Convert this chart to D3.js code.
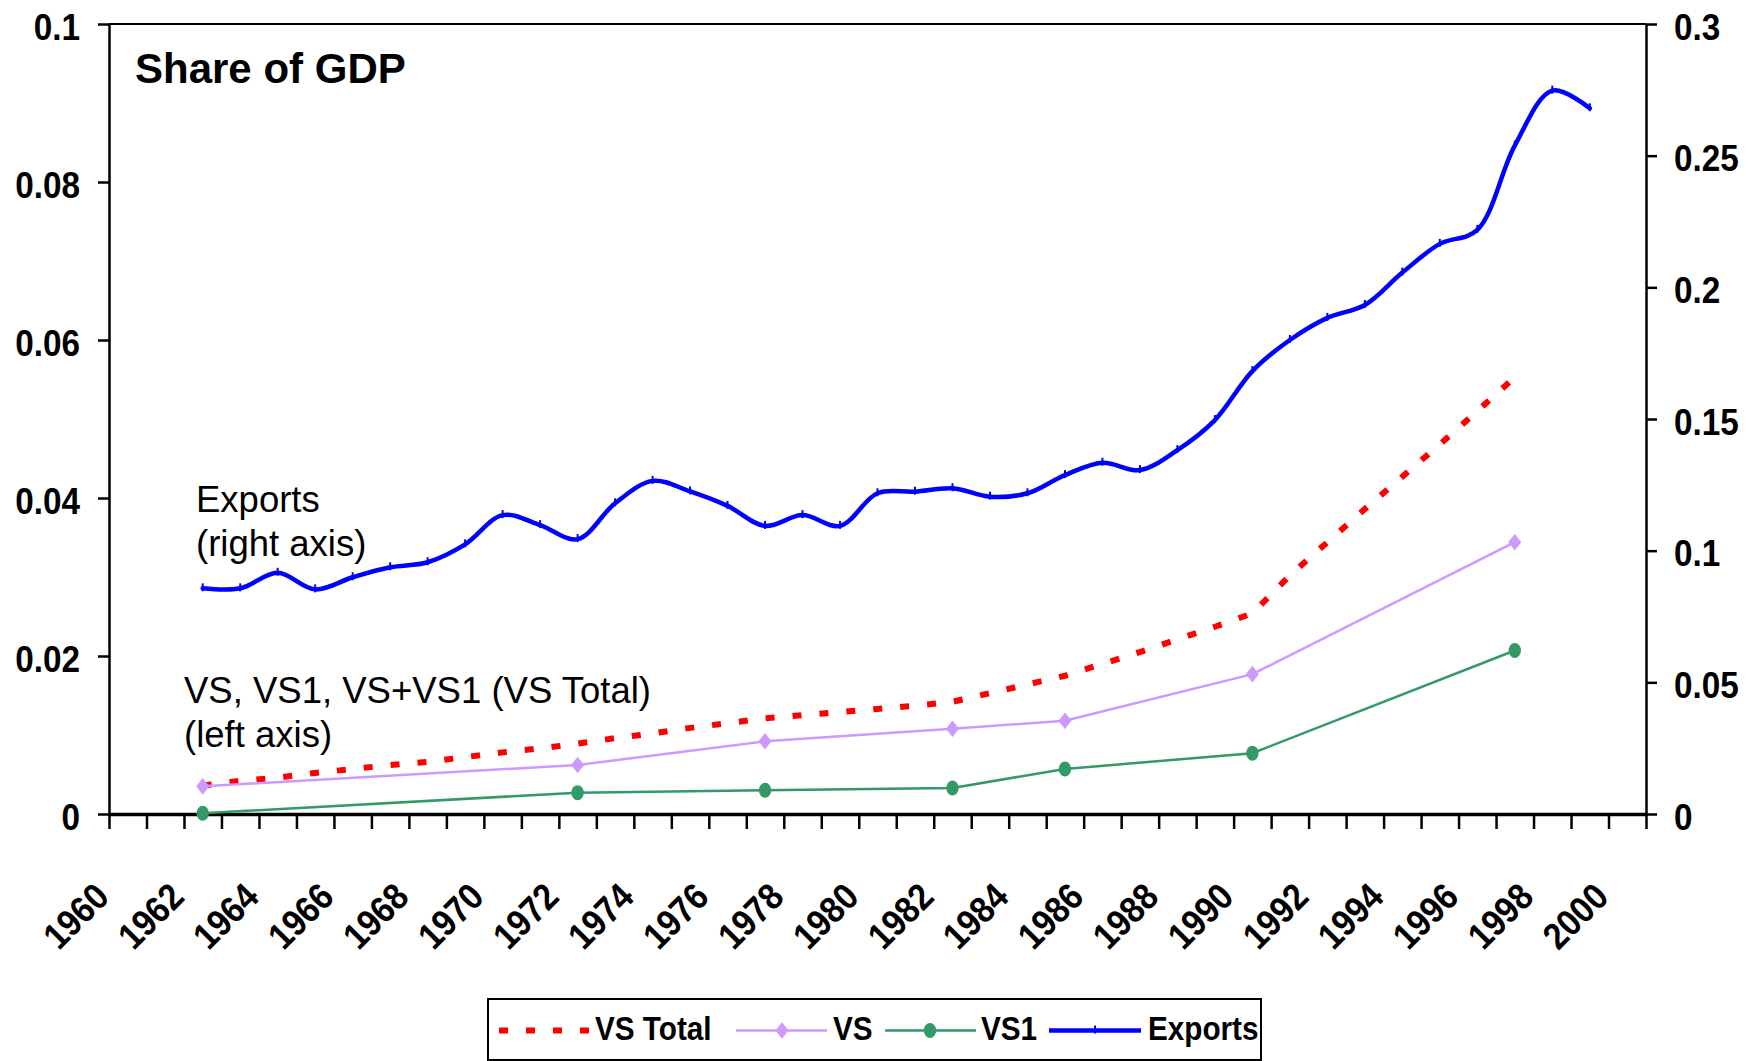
<!DOCTYPE html>
<html><head><meta charset="utf-8">
<script src="https://cdn.jsdelivr.net/npm/d3@7"></script>
<style>html,body{margin:0;padding:0;background:#fff;} svg{display:block;} text{font-family:"Liberation Sans",Arial,sans-serif;}</style>
</head><body><svg id="c" width="1764" height="1061"></svg>
<script>
// ---- data ----
const vsYears = [1962, 1972, 1977, 1982, 1985, 1990, 1997];
const vsValues = [0.0035, 0.0062, 0.0092, 0.0108, 0.0118, 0.0177, 0.0344];
const vs1Values = [0.0001, 0.0027, 0.0030, 0.0033, 0.0057, 0.0077, 0.0207];
const vsTotalYears = [1962,1963,1964,1965,1966,1967,1968,1969,1970,1971,1972,1973,1974,1975,1976,1977,1978,1979,1980,1981,1982,1983,1984,1985,1986,1987,1988,1989,1990,1991,1992,1993,1994,1995,1996,1997];
const vsTotalValues = [0.0036,0.0042,0.0046,0.0052,0.0057,0.0062,0.0066,0.0072,0.0078,0.0083,0.0089,0.0096,0.0102,0.0109,0.0115,0.0121,0.0125,0.0129,0.0133,0.0137,0.0142,0.0153,0.0164,0.0175,0.0190,0.0205,0.0221,0.0237,0.0254,0.0302,0.0344,0.0386,0.0427,0.0468,0.0510,0.0553];
const exportYears = [1962,1963,1964,1965,1966,1967,1968,1969,1970,1971,1972,1973,1974,1975,1976,1977,1978,1979,1980,1981,1982,1983,1984,1985,1986,1987,1988,1989,1990,1991,1992,1993,1994,1995,1996,1997,1998,1999];
const exportValues = [0.0857,0.0857,0.0916,0.0853,0.0899,0.0937,0.0956,0.1024,0.1135,0.1097,0.1044,0.1180,0.1265,0.1225,0.1170,0.1094,0.1135,0.1094,0.1218,0.1224,0.1237,0.1205,0.1218,0.1287,0.1334,0.1306,0.1382,0.1496,0.1682,0.1800,0.1884,0.1933,0.2056,0.2165,0.2218,0.2538,0.2747,0.2680];
const xTickLabels = ["1960","1962","1964","1966","1968","1970","1972","1974","1976","1978","1980","1982","1984","1986","1988","1990","1992","1994","1996","1998","2000"];
const leftTicks = [0, 0.02, 0.04, 0.06, 0.08, 0.1];
const leftTickLabels = ["0","0.02","0.04","0.06","0.08","0.1"];
const rightTicks = [0, 0.05, 0.1, 0.15, 0.2, 0.25, 0.3];
const rightTickLabels = ["0","0.05","0.1","0.15","0.2","0.25","0.3"];
const seriesNames = ["VS Total", "VS", "VS1", "Exports"];

// ---- layout ----
const X0 = 109, X1 = 1646, Y0 = 814, Y1 = 24;
const svg = d3.select("#c");
const x = d3.scaleLinear().domain([1960, 2001]).range([X0, X1]);
const xc = yr => x(yr + 0.5);
const yL = d3.scaleLinear().domain([0, 0.1]).range([Y0, Y1]);
const yR = d3.scaleLinear().domain([0, 0.3]).range([Y0, Y1]);

const RED = "#FF0000", PURPLE = "#CC99FF", GREEN = "#339966", BLUE = "#0000FF";

// top border
svg.append("line").attr("x1", X0).attr("x2", X1).attr("y1", Y1).attr("y2", Y1)
  .attr("stroke", "#000").attr("stroke-width", 2);

function styleAxisText(g, sign) {
  g.attr("font-size", null).attr("font-family", null);
  g.selectAll(".tick text").each(function () {
    const t = d3.select(this);
    const xx = +t.attr("x");
    t.attr("x", null).attr("dy", null)
     .attr("transform", `translate(${xx},15) scale(0.9,1)`);
  }).style("font-size", "37px").style("font-weight", "bold").attr("fill", "#000");
}

// left axis
const gL = svg.append("g").attr("transform", `translate(${X0},0)`)
  .call(d3.axisLeft(yL).tickValues(leftTicks).tickFormat((d, i) => leftTickLabels[i])
    .tickSize(11).tickSizeOuter(0).tickPadding(18));
gL.select(".domain").attr("stroke-width", 2.5);
gL.selectAll(".tick line").attr("stroke-width", 2.5);
styleAxisText(gL);

// right axis
const gR = svg.append("g").attr("transform", `translate(${X1},0)`)
  .call(d3.axisRight(yR).tickValues(rightTicks).tickFormat((d, i) => rightTickLabels[i])
    .tickSize(11).tickSizeOuter(0).tickPadding(17));
gR.select(".domain").attr("stroke-width", 2.5);
gR.selectAll(".tick line").attr("stroke-width", 2.5);
styleAxisText(gR);

// bottom axis
const gB = svg.append("g").attr("transform", `translate(0,${Y0})`)
  .call(d3.axisBottom(x).tickValues(d3.range(1960, 2002)).tickFormat("").tickSize(15).tickSizeOuter(0));
gB.select(".domain").attr("stroke-width", 3.5);
gB.selectAll(".tick line").attr("stroke-width", 2.5);

// x labels
svg.append("g").selectAll("text").data(xTickLabels).join("text")
  .attr("transform", d => `translate(${x(+d) + 2},899) rotate(-45) scale(0.9,1)`)
  .attr("text-anchor", "end").style("font-size", "37px").style("font-weight", "bold")
  .text(d => d);

// ---- series ----
// VS Total (dotted red)
svg.append("path")
  .datum(vsTotalYears.map((yr, i) => [yr, vsTotalValues[i]]))
  .attr("d", d3.line().x(d => xc(d[0])).y(d => yL(d[1])))
  .attr("fill", "none").attr("stroke", RED).attr("stroke-width", 6)
  .attr("stroke-dasharray", "9,18");

// VS (purple, diamonds)
const vsData = vsYears.map((yr, i) => [yr, vsValues[i]]);
svg.append("path").datum(vsData)
  .attr("d", d3.line().x(d => xc(d[0])).y(d => yL(d[1])))
  .attr("fill", "none").attr("stroke", PURPLE).attr("stroke-width", 2.5);
const diamond = "M0,-8.3L6.5,0L0,8.3L-6.5,0Z";
svg.append("g").selectAll("path").data(vsData).join("path")
  .attr("transform", d => `translate(${xc(d[0])},${yL(d[1])})`)
  .attr("d", diamond).attr("fill", PURPLE);

// VS1 (green, circles)
const vs1Data = vsYears.map((yr, i) => [yr, vs1Values[i]]);
svg.append("path").datum(vs1Data)
  .attr("d", d3.line().x(d => xc(d[0])).y(d => yL(d[1])))
  .attr("fill", "none").attr("stroke", GREEN).attr("stroke-width", 2.5);
svg.append("g").selectAll("ellipse").data(vs1Data).join("ellipse")
  .attr("cx", d => xc(d[0])).attr("cy", d => yL(d[1]))
  .attr("rx", 6.2).attr("ry", 7.5).attr("fill", GREEN);

// Exports (blue, right axis)
const exData = exportYears.map((yr, i) => [yr, exportValues[i]]);
svg.append("path").datum(exData)
  .attr("d", d3.line().x(d => xc(d[0])).y(d => yR(d[1])).curve(d3.curveCatmullRom.alpha(0.5)))
  .attr("fill", "none").attr("stroke", BLUE).attr("stroke-width", 4.5)
  .attr("stroke-linejoin", "round").attr("stroke-linecap", "round");
svg.append("g").selectAll("line").data(exData).join("line")
  .attr("x1", d => xc(d[0])).attr("x2", d => xc(d[0]))
  .attr("y1", d => yR(d[1]) - 5).attr("y2", d => yR(d[1]) + 3)
  .attr("stroke", BLUE).attr("stroke-width", 2);

// ---- annotations ----
svg.append("text").attr("x", 135).attr("y", 83).style("font-size", "42px").style("font-weight", "bold").text("Share of GDP");
const ann = [["Exports", 196, 512], ["(right axis)", 196, 556], ["VS, VS1, VS+VS1 (VS Total)", 184, 703], ["(left axis)", 184, 747]];
svg.append("g").selectAll("text").data(ann).join("text")
  .attr("x", d => d[1]).attr("y", d => d[2]).style("font-size", "36.5px").text(d => d[0]);

// ---- legend ----
const lg = svg.append("g");
lg.append("rect").attr("x", 488).attr("y", 999).attr("width", 773).attr("height", 61)
  .attr("fill", "#fff").attr("stroke", "#000").attr("stroke-width", 2);
const LY = 1030.5;
lg.append("line").attr("x1", 499).attr("x2", 590).attr("y1", LY).attr("y2", LY)
  .attr("stroke", RED).attr("stroke-width", 6).attr("stroke-dasharray", "9,18");
lg.append("line").attr("x1", 736).attr("x2", 827).attr("y1", LY).attr("y2", LY)
  .attr("stroke", PURPLE).attr("stroke-width", 2.5);
lg.append("path").attr("transform", `translate(782,${LY})`).attr("d", diamond).attr("fill", PURPLE);
lg.append("line").attr("x1", 885).attr("x2", 976).attr("y1", LY).attr("y2", LY)
  .attr("stroke", GREEN).attr("stroke-width", 2.5);
lg.append("ellipse").attr("cx", 930).attr("cy", LY).attr("rx", 6.2).attr("ry", 7.5).attr("fill", GREEN);
lg.append("line").attr("x1", 1049).attr("x2", 1141).attr("y1", LY).attr("y2", LY)
  .attr("stroke", BLUE).attr("stroke-width", 4.5);
lg.append("line").attr("x1", 1095).attr("x2", 1095).attr("y1", LY - 5).attr("y2", LY + 3)
  .attr("stroke", BLUE).attr("stroke-width", 2);
const legX = [595, 833, 981, 1148];
lg.selectAll("text").data(seriesNames).join("text")
  .attr("transform", (d, i) => `translate(${legX[i]},1040) scale(0.9,1)`)
  .style("font-size", "33px").style("font-weight", "bold").text(d => d);
</script>
</body></html>
